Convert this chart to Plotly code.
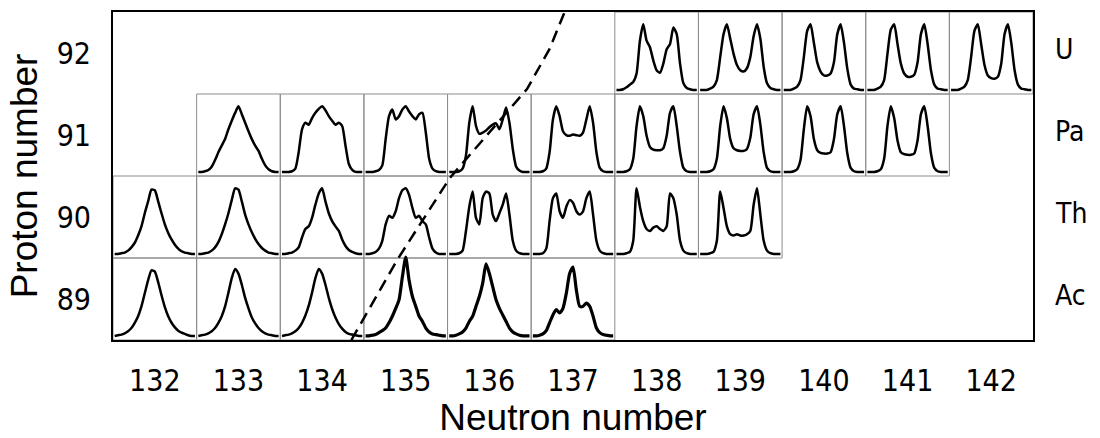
import plotly.graph_objects as go

# ---------------- data ----------------
neutron_ticks = [132, 133, 134, 135, 136, 137, 138, 139, 140, 141, 142]
proton_ticks = [89, 90, 91, 92]
element_labels = ["Ac", "Th", "Pa", "U"]

U_cells = [138, 139, 140, 141, 142]
Pa_cells = [133, 134, 135, 136, 137, 138, 139, 140, 141]
Th_cells = [132, 133, 134, 135, 136, 137, 138, 139]
Ac_cells = [132, 133, 134, 135, 136, 137]

# relative yields sampled at 25 equally spaced points across each cell
U138 = [0, 0, 0.01, 0.04, 0.08, 0.12, 0.25, 0.75, 1.0, 0.75, 0.65, 0.45, 0.3, 0.26, 0.4, 0.62, 0.7, 0.95, 0.85, 0.4, 0.1, 0.03, 0.01, 0, 0]
U139 = [0, 0, 0, 0.02, 0.05, 0.15, 0.5, 0.85, 1.0, 0.78, 0.55, 0.38, 0.3, 0.28, 0.33, 0.5, 0.82, 1.0, 0.78, 0.35, 0.1, 0.03, 0.01, 0, 0]
U140 = [0, 0, 0, 0.02, 0.05, 0.15, 0.5, 0.9, 1.0, 0.72, 0.42, 0.28, 0.22, 0.22, 0.25, 0.42, 0.85, 1.0, 0.72, 0.32, 0.08, 0.02, 0.01, 0, 0]
U141 = [0, 0, 0, 0.02, 0.05, 0.15, 0.55, 0.92, 1.0, 0.7, 0.4, 0.25, 0.2, 0.2, 0.23, 0.42, 0.85, 1.0, 0.7, 0.3, 0.08, 0.02, 0.01, 0, 0]
U142 = [0, 0, 0, 0.02, 0.05, 0.15, 0.5, 0.9, 1.0, 0.7, 0.38, 0.22, 0.18, 0.17, 0.2, 0.4, 0.85, 1.0, 0.72, 0.3, 0.08, 0.02, 0.01, 0, 0]

Pa133 = [0, 0, 0.01, 0.03, 0.08, 0.18, 0.3, 0.4, 0.5, 0.65, 0.78, 0.9, 1.0, 0.88, 0.75, 0.62, 0.5, 0.4, 0.32, 0.2, 0.1, 0.04, 0.01, 0, 0]
Pa134 = [0, 0, 0, 0.01, 0.05, 0.3, 0.65, 0.75, 0.72, 0.82, 0.9, 0.96, 1.0, 0.94, 0.85, 0.78, 0.72, 0.75, 0.7, 0.4, 0.12, 0.03, 0, 0, 0]
Pa135 = [0, 0, 0, 0.01, 0.03, 0.1, 0.5, 0.85, 0.95, 0.8, 0.85, 0.95, 1.0, 0.92, 0.85, 0.8, 0.88, 0.9, 0.6, 0.2, 0.05, 0.01, 0, 0, 0]
Pa136 = [0, 0, 0, 0.01, 0.05, 0.25, 0.75, 1.0, 0.7, 0.58, 0.6, 0.63, 0.68, 0.72, 0.74, 0.65, 0.8, 0.98, 0.75, 0.35, 0.08, 0.02, 0, 0, 0]
Pa137 = [0, 0, 0, 0.01, 0.05, 0.3, 0.8, 1.0, 0.85, 0.62, 0.56, 0.55, 0.57, 0.56, 0.55, 0.6, 0.8, 1.0, 0.75, 0.3, 0.06, 0.01, 0, 0, 0]
Pa138 = [0, 0, 0, 0.01, 0.04, 0.2, 0.7, 1.0, 0.85, 0.55, 0.38, 0.34, 0.33, 0.33, 0.36, 0.55, 0.9, 1.0, 0.7, 0.3, 0.06, 0.01, 0, 0, 0]
Pa139 = [0, 0, 0, 0.01, 0.04, 0.2, 0.7, 1.0, 0.82, 0.5, 0.36, 0.33, 0.32, 0.32, 0.35, 0.52, 0.88, 1.0, 0.72, 0.3, 0.06, 0.01, 0, 0, 0]
Pa140 = [0, 0, 0, 0.01, 0.04, 0.18, 0.65, 1.0, 0.85, 0.5, 0.33, 0.29, 0.28, 0.28, 0.3, 0.5, 0.88, 1.0, 0.7, 0.28, 0.06, 0.01, 0, 0, 0]
Pa141 = [0, 0, 0, 0.01, 0.04, 0.2, 0.7, 1.0, 0.82, 0.48, 0.3, 0.27, 0.26, 0.26, 0.28, 0.48, 0.88, 1.0, 0.7, 0.28, 0.06, 0.01, 0, 0, 0]

Th132 = [0, 0, 0.01, 0.02, 0.05, 0.1, 0.17, 0.28, 0.42, 0.62, 0.8, 0.98, 0.97, 0.8, 0.62, 0.45, 0.32, 0.22, 0.14, 0.08, 0.04, 0.02, 0.01, 0, 0]
Th133 = [0, 0, 0.01, 0.02, 0.05, 0.1, 0.18, 0.3, 0.45, 0.62, 0.82, 1.0, 0.98, 0.8, 0.6, 0.45, 0.33, 0.23, 0.15, 0.09, 0.05, 0.02, 0.01, 0, 0]
Th134 = [0, 0, 0.01, 0.02, 0.05, 0.1, 0.25, 0.38, 0.42, 0.55, 0.75, 0.92, 1.0, 0.8, 0.62, 0.5, 0.42, 0.35, 0.22, 0.12, 0.06, 0.03, 0.01, 0, 0]
Th135 = [0, 0, 0.01, 0.03, 0.08, 0.2, 0.45, 0.58, 0.55, 0.65, 0.85, 0.97, 1.0, 0.9, 0.7, 0.55, 0.58, 0.5, 0.45, 0.25, 0.08, 0.02, 0, 0, 0]
Th136 = [0, 0, 0, 0.01, 0.05, 0.35, 0.72, 0.95, 0.55, 0.45, 0.85, 0.95, 0.92, 0.6, 0.5, 0.62, 0.75, 0.92, 0.6, 0.2, 0.05, 0.01, 0, 0, 0]
Th137 = [0, 0, 0, 0.01, 0.08, 0.5, 0.85, 0.92, 0.65, 0.55, 0.72, 0.82, 0.78, 0.65, 0.6, 0.65, 0.85, 0.95, 0.6, 0.2, 0.05, 0.01, 0, 0, 0]
Th138 = [0, 0, 0, 0.01, 0.03, 0.2, 1.0, 0.72, 0.5, 0.38, 0.35, 0.4, 0.42, 0.38, 0.35, 0.42, 0.92, 0.85, 0.6, 0.2, 0.05, 0.01, 0, 0, 0]
Th139 = [0, 0, 0, 0.01, 0.03, 0.2, 0.95, 0.7, 0.42, 0.3, 0.28, 0.3, 0.28, 0.28, 0.3, 0.35, 0.75, 1.0, 0.6, 0.2, 0.05, 0.01, 0, 0, 0]

Ac132 = [0, 0.01, 0.02, 0.04, 0.07, 0.12, 0.2, 0.3, 0.45, 0.65, 0.85, 1.0, 0.98, 0.82, 0.62, 0.44, 0.3, 0.2, 0.13, 0.08, 0.05, 0.03, 0.01, 0, 0]
Ac133 = [0, 0.01, 0.02, 0.04, 0.07, 0.12, 0.2, 0.3, 0.45, 0.66, 0.88, 1.02, 0.95, 0.78, 0.58, 0.42, 0.28, 0.19, 0.12, 0.07, 0.04, 0.02, 0.01, 0, 0]
Ac134 = [0, 0.01, 0.02, 0.04, 0.07, 0.12, 0.2, 0.31, 0.46, 0.66, 0.88, 1.02, 0.95, 0.78, 0.58, 0.41, 0.28, 0.18, 0.11, 0.06, 0.03, 0.02, 0.01, 0, 0]
Ac135 = [0, 0, 0.01, 0.02, 0.05, 0.08, 0.12, 0.2, 0.3, 0.42, 0.55, 0.9, 1.2, 0.85, 0.6, 0.45, 0.3, 0.22, 0.12, 0.06, 0.03, 0.02, 0.01, 0, 0]
Ac136 = [0, 0, 0.01, 0.03, 0.06, 0.12, 0.22, 0.3, 0.45, 0.6, 0.8, 1.1, 0.95, 0.75, 0.55, 0.42, 0.32, 0.22, 0.12, 0.06, 0.03, 0.01, 0, 0, 0]
Ac137 = [0, 0, 0.01, 0.03, 0.08, 0.2, 0.32, 0.4, 0.35, 0.42, 0.65, 0.95, 1.05, 0.7, 0.45, 0.45, 0.5, 0.45, 0.3, 0.12, 0.05, 0.02, 0.01, 0, 0]

# dashed boundary line (neutron, proton coordinates)
dash_n = [134.35, 134.9, 135.53, 136.45, 136.72, 136.9]
dash_z = [88.5, 89.48, 90.48, 91.56, 92.05, 92.5]

# ---------------- build table ----------------
rows = [
    (92, U_cells, [U138, U139, U140, U141, U142]),
    (91, Pa_cells, [Pa133, Pa134, Pa135, Pa136, Pa137, Pa138, Pa139, Pa140, Pa141]),
    (90, Th_cells, [Th132, Th133, Th134, Th135, Th136, Th137, Th138, Th139]),
    (89, Ac_cells, [Ac132, Ac133, Ac134, Ac135, Ac136, Ac137]),
]

fig = go.Figure()
shapes = []
for z, cells, curves in rows:
    for n, h in zip(cells, curves):
        shapes.append(dict(type="rect", xref="x", yref="y",
                           x0=n - 0.5, x1=n + 0.5, y0=z - 0.5, y1=z + 0.5,
                           line=dict(color="#8c8c8c", width=1), layer="below"))
        m = len(h)
        xs = [n - 0.48 + 0.96 * i / (m - 1) for i in range(m)]
        ys = [z - 0.45 + 0.8 * v for v in h]
        noisy = (z == 89 and n >= 135)
        fig.add_trace(go.Scatter(x=xs, y=ys, mode="lines",
                                 line=dict(color="black", width=3.2 if noisy else 2.5,
                                           shape="spline", smoothing=0.6),
                                 hoverinfo="skip", showlegend=False))

fig.add_trace(go.Scatter(x=dash_n, y=dash_z, mode="lines",
                         line=dict(color="black", width=2.5, dash="12px,7px"),
                         hoverinfo="skip", showlegend=False))

narrow = "Liberation Sans Narrow, Arial Narrow, DejaVu Sans Condensed, sans-serif"
annotations = []
for z, lab in zip(proton_ticks, element_labels):
    annotations.append(dict(x=142.5, y=z, xref="x", yref="y", text=lab,
                            showarrow=False, xanchor="left", xshift=20, yshift=4,
                            font=dict(family=narrow, size=28, color="black")))

fig.update_layout(
    width=1100, height=438,
    margin=dict(l=113, r=67, t=10, b=88),
    paper_bgcolor="white", plot_bgcolor="white",
    shapes=shapes, annotations=annotations,
    xaxis=dict(range=[131.5, 142.5], tickvals=neutron_ticks,
               ticktext=[str(v) for v in neutron_ticks],
               showgrid=False, zeroline=False, showline=True, mirror=True,
               linecolor="black", linewidth=2, ticks="", ticklabelstandoff=13,
               tickfont=dict(family=narrow, size=30, color="black"),
               title=dict(text="Neutron number", standoff=4,
                          font=dict(family="Liberation Sans, Arial, sans-serif", size=37, color="black"))),
    yaxis=dict(range=[88.5, 92.5], tickvals=proton_ticks,
               ticktext=[str(v) for v in proton_ticks],
               showgrid=False, zeroline=False, showline=True, mirror=True,
               linecolor="black", linewidth=2, ticks="", ticklabelstandoff=14,
               tickfont=dict(family=narrow, size=30, color="black"),
               title=dict(text="Proton number", standoff=8,
                          font=dict(family="Liberation Sans, Arial, sans-serif", size=37, color="black"))),
)

fig.write_html("out.html")
